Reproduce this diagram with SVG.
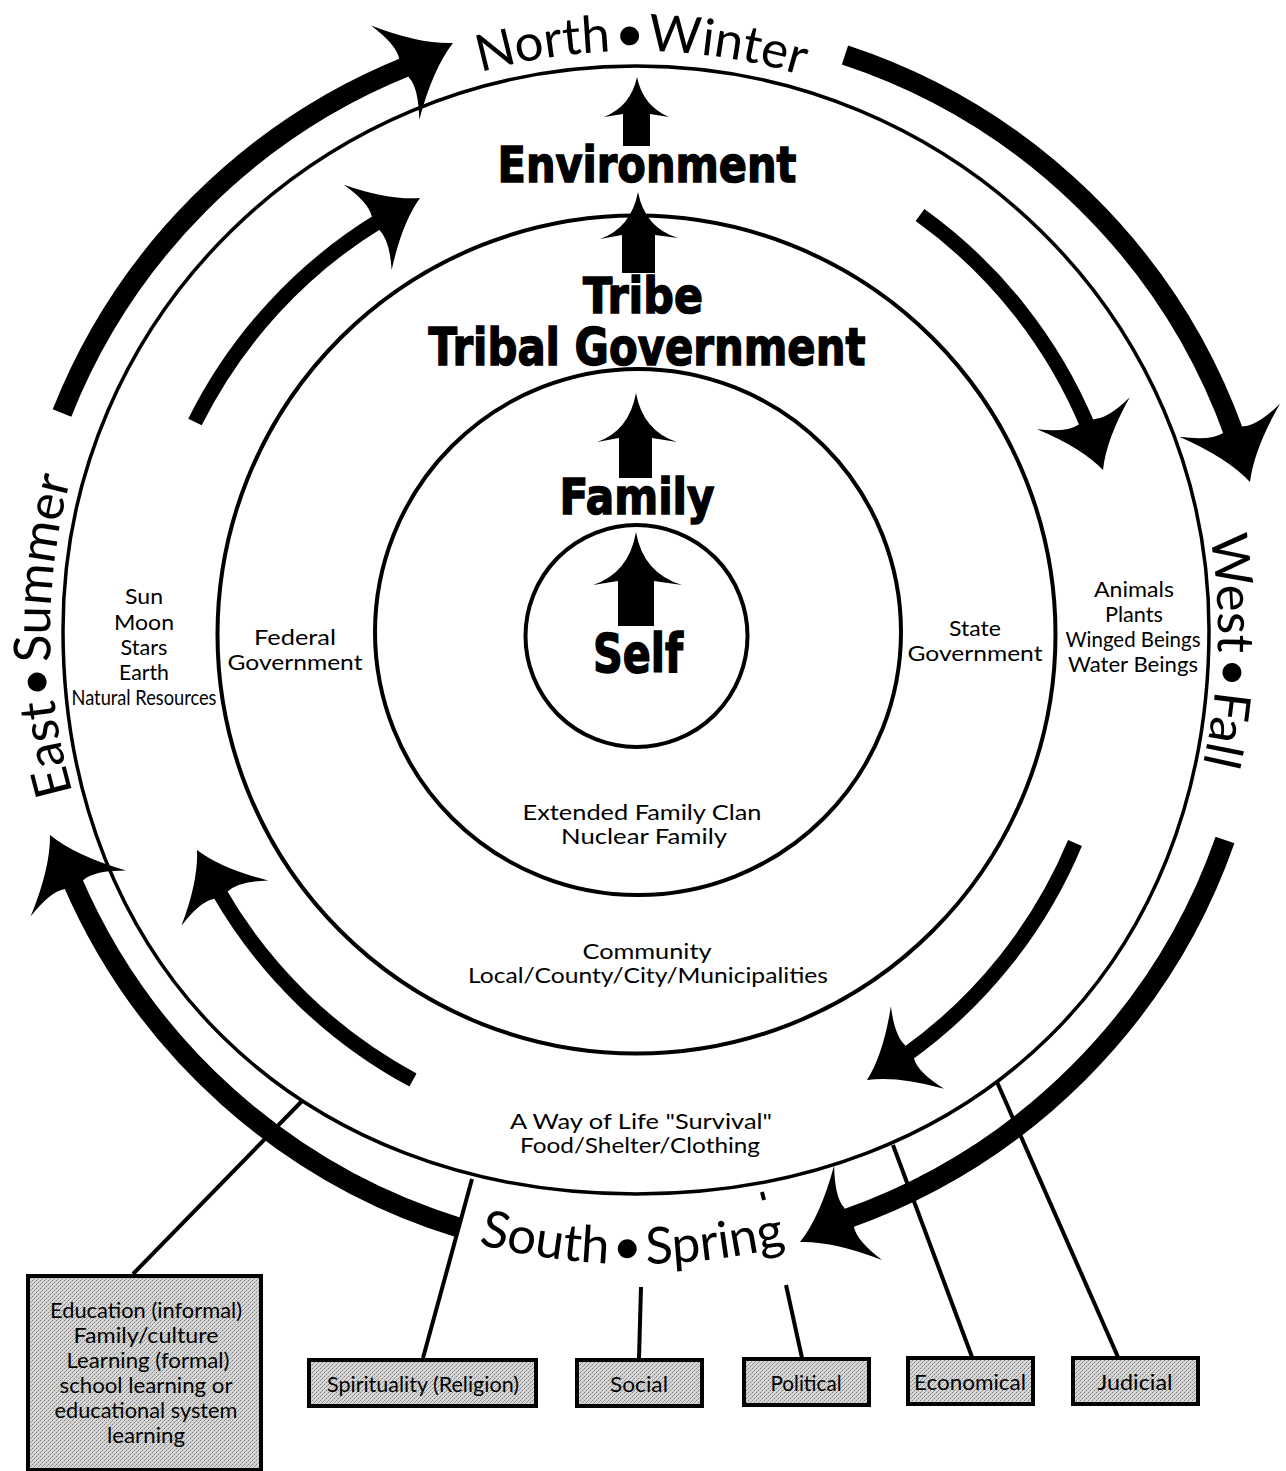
<svg xmlns="http://www.w3.org/2000/svg" xmlns:xlink="http://www.w3.org/1999/xlink" width="1286" height="1471" viewBox="0 0 1286 1471">
<style>
.ring{fill:none;stroke:#000}
.bodyO{fill:none;stroke:#000;stroke-width:20}
.bodyI{fill:none;stroke:#000;stroke-width:15}
.dir{font-family:Lato,"Open Sans",sans-serif;font-size:51px;fill:#000;word-spacing:-9px}
.lbl{font-family:Lato,"Open Sans",sans-serif;font-size:22px;fill:#000;text-anchor:middle}
.big{font-family:"DejaVu Sans",sans-serif;font-weight:bold;fill:#000;stroke:#000;stroke-width:1.5;text-anchor:middle}
.box{fill:url(#dith);stroke:#000;stroke-width:4}
.btxt{font-family:Lato,"Open Sans",sans-serif;font-size:22px;fill:#000;text-anchor:middle}
.con{stroke:#000;stroke-width:4;fill:none}
</style>
<defs>
<pattern id="dith" width="4" height="4" patternUnits="userSpaceOnUse"><rect width="4" height="4" fill="#d6d6d6"/><rect width="1" height="1" fill="#808080"/><rect x="2" y="2" width="1" height="1" fill="#808080"/><rect x="1" y="3" width="1" height="1" fill="#a8a8a8"/><rect x="3" y="1" width="1" height="1" fill="#a8a8a8"/></pattern>
<path id="hO" d="M0,0 Q-30,-14 -65,-53 Q-51,-24 -55,-11 L-55,11 Q-51,24 -65,53 Q-30,14 0,0 Z"/>
<path id="hI" d="M0,0 Q-28,-13 -60,-49 Q-47,-22 -51,-8 L-51,8 Q-47,22 -60,49 Q-28,13 0,0 Z"/>
<path id="pTop" d="M55,632 A581,581 0 0 1 1217,632"/>
<path id="pLeft" d="M636,1218 A586,586 0 0 1 636,46"/>
<path id="pRight" d="M636,50 A582,582 0 0 1 636,1214"/>
<path id="pBot" d="M4,632 A632,632 0 0 0 1268,632"/>
</defs>
<rect width="1286" height="1471" fill="#fff"/>

<g id="rings">
<path class="ring" stroke-width="3.5" d="M636,66 C952.5,66 1209,318.5 1209,630 C1209,962.8 974,1194 636,1194 C298,1194 63,962.8 63,630 C63,318.5 319.5,66 636,66 Z"/>
<circle class="ring" stroke-width="4" cx="636.5" cy="634.5" r="419"/>
<circle class="ring" stroke-width="4" cx="638" cy="632" r="263"/>
<circle class="ring" stroke-width="4" cx="636.5" cy="636" r="111"/>
</g>

<g id="cycle-arrows">
<path class="bodyO" d="M62,413 A620,620 0 0 1 408.5,65.8"/>
<use xlink:href="#hO" transform="translate(453,43) rotate(-27.1)"/>
<path class="bodyO" d="M845,55 A620,620 0 0 1 1234.4,434.5"/>
<use xlink:href="#hO" transform="translate(1250,482) rotate(71.8)"/>
<path class="bodyO" d="M1225,840 A620,620 0 0 1 844.7,1219.5"/>
<use xlink:href="#hO" transform="translate(800,1242) rotate(153.2)"/>
<path class="bodyO" d="M460,1228 A620,620 0 0 1 71.8,880"/>
<use xlink:href="#hO" transform="translate(50,835) rotate(-115.8)"/>
<path class="bodyI" d="M195,422 A494,494 0 0 1 379.9,220.5"/>
<use xlink:href="#hI" transform="translate(420,198) rotate(-29.3)"/>
<path class="bodyI" d="M920,215 A494,494 0 0 1 1088,426.5"/>
<use xlink:href="#hI" transform="translate(1103,470) rotate(71)"/>
<path class="bodyI" d="M1075,843 A494,494 0 0 1 905.7,1055.1"/>
<use xlink:href="#hI" transform="translate(867,1080) rotate(147.2)"/>
<path class="bodyI" d="M413,1080 A494,494 0 0 1 218.3,890.8"/>
<use xlink:href="#hI" transform="translate(197,850) rotate(-117.6)"/>
</g>

<g id="up-arrows">
<path d="M637,77 Q631,106 604,117 L623,114 L623,146 L650,146 L650,114 L669,117 Q643,106 637,77 Z"/>
<path d="M638,192 Q631,228 600,239 L622,235 L622,273 L655,273 L655,235 L678,238 Q645,228 638,192 Z"/>
<path d="M636,393 Q629,431 597,442 L619,438 L619,478 L652,478 L652,438 L677,442 Q643,431 636,393 Z"/>
<path d="M636,532 Q629,573 593,585 L618,581 L618,626 L654,626 L654,581 L682,585 Q643,573 636,532 Z"/>
</g>

<g id="directions">
<text class="dir"><textPath xlink:href="#pTop" startOffset="50.3%" text-anchor="middle">North • Winter</textPath></text>
<text class="dir"><textPath xlink:href="#pLeft" startOffset="49.8%" text-anchor="middle">East • Summer</textPath></text>
<text class="dir"><textPath xlink:href="#pRight" startOffset="51%" text-anchor="middle">West • Fall</textPath></text>
<text class="dir"><textPath xlink:href="#pBot" startOffset="49.8%" text-anchor="middle">South • Spring</textPath></text>
</g>

<g id="levels">
<text class="big" x="647" y="182" font-size="50" textLength="299" lengthAdjust="spacingAndGlyphs">Environment</text>
<text class="big" x="643" y="313" font-size="50" textLength="120" lengthAdjust="spacingAndGlyphs">Tribe</text>
<text class="big" x="647" y="365" font-size="52" textLength="437" lengthAdjust="spacingAndGlyphs">Tribal Government</text>
<text class="big" x="637" y="514" font-size="50" textLength="155" lengthAdjust="spacingAndGlyphs">Family</text>
<text class="big" x="638" y="672" font-size="53" textLength="90" lengthAdjust="spacingAndGlyphs">Self</text>
</g>

<g id="labels">
<text class="lbl" x="144" y="604" textLength="38" lengthAdjust="spacingAndGlyphs">Sun</text>
<text class="lbl" x="144" y="630" textLength="60" lengthAdjust="spacingAndGlyphs">Moon</text>
<text class="lbl" x="144" y="655" textLength="47" lengthAdjust="spacingAndGlyphs">Stars</text>
<text class="lbl" x="144" y="680" textLength="50" lengthAdjust="spacingAndGlyphs">Earth</text>
<text class="lbl" x="144" y="705" textLength="145" lengthAdjust="spacingAndGlyphs">Natural Resources</text>
<text class="lbl" x="295" y="645" textLength="82" lengthAdjust="spacingAndGlyphs">Federal</text>
<text class="lbl" x="295" y="670" textLength="135" lengthAdjust="spacingAndGlyphs">Government</text>
<text class="lbl" x="975" y="636" textLength="52" lengthAdjust="spacingAndGlyphs">State</text>
<text class="lbl" x="975" y="661" textLength="135" lengthAdjust="spacingAndGlyphs">Government</text>
<text class="lbl" x="1134" y="597" textLength="80" lengthAdjust="spacingAndGlyphs">Animals</text>
<text class="lbl" x="1134" y="622" textLength="58" lengthAdjust="spacingAndGlyphs">Plants</text>
<text class="lbl" x="1133" y="647" textLength="135" lengthAdjust="spacingAndGlyphs">Winged Beings</text>
<text class="lbl" x="1133" y="672" textLength="130" lengthAdjust="spacingAndGlyphs">Water Beings</text>
<text class="lbl" x="642" y="820" textLength="239" lengthAdjust="spacingAndGlyphs">Extended Family Clan</text>
<text class="lbl" x="644" y="844" textLength="166" lengthAdjust="spacingAndGlyphs">Nuclear Family</text>
<text class="lbl" x="647" y="959" textLength="129" lengthAdjust="spacingAndGlyphs">Community</text>
<text class="lbl" x="648" y="983" textLength="360" lengthAdjust="spacingAndGlyphs">Local/County/City/Municipalities</text>
<text class="lbl" x="641" y="1129" textLength="262" lengthAdjust="spacingAndGlyphs">A Way of Life "Survival"</text>
<text class="lbl" x="640" y="1153" textLength="240" lengthAdjust="spacingAndGlyphs">Food/Shelter/Clothing</text>
</g>

<g id="connectors">
<line class="con" x1="133" y1="1274" x2="302" y2="1101"/>
<line class="con" x1="423" y1="1358" x2="472" y2="1179"/>
<line class="con" x1="639" y1="1358" x2="641" y2="1287"/>
<line class="con" x1="802" y1="1358" x2="786" y2="1285"/>
<line class="con" x1="972" y1="1357" x2="893" y2="1145"/>
<line class="con" x1="1118" y1="1357" x2="997" y2="1082"/>
<line class="con" x1="762" y1="1192" x2="764" y2="1200"/>
</g>

<g id="box-education">
<rect class="box" x="28" y="1276" width="233" height="194"/>
<text class="btxt" x="146" y="1318" textLength="192" lengthAdjust="spacingAndGlyphs">Education (informal)</text>
<text class="btxt" x="146" y="1343" textLength="145" lengthAdjust="spacingAndGlyphs">Family/culture</text>
<text class="btxt" x="148" y="1368" textLength="163" lengthAdjust="spacingAndGlyphs">Learning (formal)</text>
<text class="btxt" x="146" y="1393" textLength="173" lengthAdjust="spacingAndGlyphs">school learning or</text>
<text class="btxt" x="146" y="1418" textLength="183" lengthAdjust="spacingAndGlyphs">educational system</text>
<text class="btxt" x="146" y="1443" textLength="78" lengthAdjust="spacingAndGlyphs">learning</text>
</g>
<g id="box-spirituality">
<rect class="box" x="309" y="1360" width="227" height="46"/>
<text class="btxt" x="423" y="1392" textLength="192" lengthAdjust="spacingAndGlyphs">Spirituality (Religion)</text>
</g>
<g id="box-social">
<rect class="box" x="577" y="1360" width="125" height="46"/>
<text class="btxt" x="639" y="1392" textLength="58" lengthAdjust="spacingAndGlyphs">Social</text>
</g>
<g id="box-political">
<rect class="box" x="744" y="1359" width="125" height="46"/>
<text class="btxt" x="806" y="1391" textLength="71" lengthAdjust="spacingAndGlyphs">Political</text>
</g>
<g id="box-economical">
<rect class="box" x="908" y="1358" width="125" height="46"/>
<text class="btxt" x="970" y="1390" textLength="112" lengthAdjust="spacingAndGlyphs">Economical</text>
</g>
<g id="box-judicial">
<rect class="box" x="1073" y="1358" width="125" height="46"/>
<text class="btxt" x="1135" y="1390" textLength="75" lengthAdjust="spacingAndGlyphs">Judicial</text>
</g>
</svg>
